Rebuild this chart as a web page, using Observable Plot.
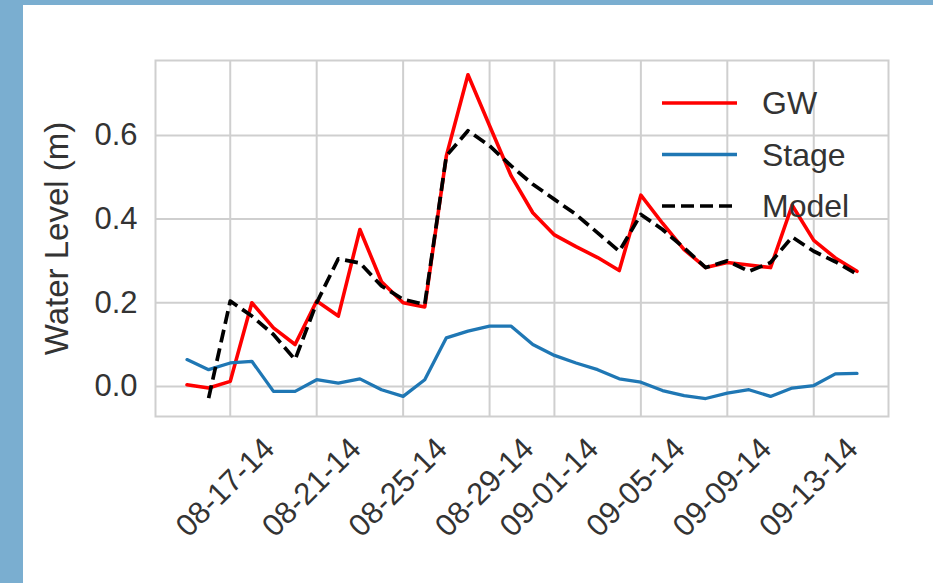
<!DOCTYPE html>
<html>
<head>
<meta charset="utf-8">
<script src="https://cdn.jsdelivr.net/npm/d3@7"></script>
<script src="https://cdn.jsdelivr.net/npm/@observablehq/plot@0.6"></script>
<style>
  html, body { margin: 0; padding: 0; background: #ffffff; width: 933px; height: 583px; overflow: hidden; }
  #wrap { position: relative; width: 933px; height: 583px; }
  #chart { position: absolute; left: 0; top: 0; }
  .bar-left { position: absolute; left: 0; top: 0; width: 23px; height: 583px; background: #7aaed0; }
  .bar-top { position: absolute; left: 0; top: 0; width: 933px; height: 5px; background: #7aaed0; }
  #legend { position: absolute; left: 0; top: 0; pointer-events: none; }
</style>
</head>
<body>
<div id="wrap">
  <div id="chart"></div>
  <div class="bar-left"></div>
  <div class="bar-top"></div>
  <svg id="legend" width="933" height="583"></svg>
</div>
<script>
// ---- data (daily values) ----
const dates = [
  "2014-08-15","2014-08-16","2014-08-17","2014-08-18","2014-08-19","2014-08-20","2014-08-21","2014-08-22",
  "2014-08-23","2014-08-24","2014-08-25","2014-08-26","2014-08-27","2014-08-28","2014-08-29","2014-08-30",
  "2014-08-31","2014-09-01","2014-09-02","2014-09-03","2014-09-04","2014-09-05","2014-09-06","2014-09-07",
  "2014-09-08","2014-09-09","2014-09-10","2014-09-11","2014-09-12","2014-09-13","2014-09-14","2014-09-15"
];
const gw = [
  0.004, -0.004, 0.012, 0.200, 0.140, 0.100, 0.204, 0.168,
  0.375, 0.250, 0.200, 0.190, 0.551, 0.745, 0.623, 0.503,
  0.415, 0.362, 0.334, 0.308, 0.277, 0.457, 0.390, 0.327,
  0.284, 0.296, 0.290, 0.284, 0.433, 0.349, 0.307, 0.275
];
const stage = [
  0.064, 0.040, 0.056, 0.060, -0.012, -0.012, 0.016, 0.008,
  0.018, -0.008, -0.024, 0.016, 0.116, 0.132, 0.144, 0.144,
  0.100, 0.074, 0.056, 0.040, 0.018, 0.010, -0.010, -0.022,
  -0.029, -0.016, -0.008, -0.024, -0.004, 0.002, 0.030, 0.031
];
const model = [
  null, -0.028, 0.204, 0.168, 0.124, 0.064, 0.200, 0.305,
  0.295, 0.240, 0.208, 0.196, 0.551, 0.611, 0.575, 0.527,
  0.483, 0.447, 0.411, 0.367, 0.323, 0.411, 0.375, 0.331,
  0.284, 0.300, 0.275, 0.296, 0.357, 0.323, 0.298, 0.268
];
const seriesNames = ["GW", "Stage", "Model"];
const seriesColors = ["#ff0000", "#1f77b4", "#000000"];
const seriesDash = [null, null, "13,6"];
const tickDates = ["2014-08-17","2014-08-21","2014-08-25","2014-08-29","2014-09-01","2014-09-05","2014-09-09","2014-09-13"];
const tickLabels = ["08-17-14","08-21-14","08-25-14","08-29-14","09-01-14","09-05-14","09-09-14","09-13-14"];
const yTicks = [0.0, 0.2, 0.4, 0.6];
const yLabel = "Water Level (m)";
const xDomain = ["2014-08-13T13:00Z", "2014-09-16T11:00Z"];
const yDomain = [-0.072, 0.779];

// ---- build table ----
const rows = dates.map((d, i) => ({date: new Date(d + "T00:00Z"), GW: gw[i], Stage: stage[i], Model: model[i]}));
const ticks = tickDates.map(d => new Date(d + "T00:00Z"));
const fmtY = d3.format(".1f");
const FONT = "'Liberation Sans', Arial, Helvetica, sans-serif";
const TEXT = "#333333";
const GRID = "#cfcfcf";

const chart = Plot.plot({
  width: 933,
  height: 583,
  marginLeft: 155,
  marginTop: 60,
  marginRight: 45,
  marginBottom: 167,
  style: {fontFamily: FONT, fontSize: "31px", color: TEXT, background: "transparent", overflow: "visible"},
  x: {type: "utc", domain: xDomain.map(d => new Date(d)), axis: null},
  y: {domain: yDomain, axis: null},
  marks: [
    Plot.ruleX(ticks, {x: d => d, stroke: GRID, strokeWidth: 2}),
    Plot.ruleY(yTicks, {y: d => d, stroke: GRID, strokeWidth: 2}),
    Plot.frame({stroke: GRID, strokeWidth: 2}),
    Plot.line(rows, {x: "date", y: "GW", stroke: seriesColors[0], strokeWidth: 3.6, strokeLinejoin: "round"}),
    Plot.line(rows, {x: "date", y: "Stage", stroke: seriesColors[1], strokeWidth: 3.3, strokeLinejoin: "round"}),
    Plot.line(rows, {x: "date", y: "Model", stroke: seriesColors[2], strokeWidth: 3.7, strokeDasharray: seriesDash[2], strokeLinecap: "butt"}),
    Plot.text(yTicks, {y: d => d, frameAnchor: "left", dx: -18, textAnchor: "end", lineAnchor: "middle", text: d => fmtY(d), fill: TEXT, fontSize: 31}),
    Plot.text(ticks, {x: d => d, frameAnchor: "bottom", dy: 71, dx: -5, rotate: -45, textAnchor: "middle", lineAnchor: "middle", text: (d, i) => tickLabels[i], fill: TEXT, fontSize: 31}),
    Plot.text([yLabel], {frameAnchor: "left", dx: -98, rotate: -90, textAnchor: "middle", lineAnchor: "middle", text: d => d, fill: TEXT, fontSize: 33})
  ]
});
document.getElementById("chart").appendChild(chart);

// ---- legend (inside the axes, upper right, no frame) ----
const leg = d3.select("#legend");
const legX1 = 662, legX2 = 737, legTextX = 762, legY0 = 103, legStep = 51.5;
seriesNames.forEach((name, i) => {
  const y = legY0 + i * legStep;
  const line = leg.append("line")
    .attr("x1", legX1).attr("x2", legX2).attr("y1", y).attr("y2", y)
    .attr("stroke", seriesColors[i]).attr("stroke-width", i === 1 ? 3.3 : 3.7);
  if (seriesDash[i]) line.attr("stroke-dasharray", seriesDash[i]);
  leg.append("text")
    .attr("x", legTextX).attr("y", y)
    .attr("dy", "0.35em")
    .attr("font-family", FONT).attr("font-size", 32)
    .attr("fill", TEXT)
    .text(name);
});
</script>
</body>
</html>
